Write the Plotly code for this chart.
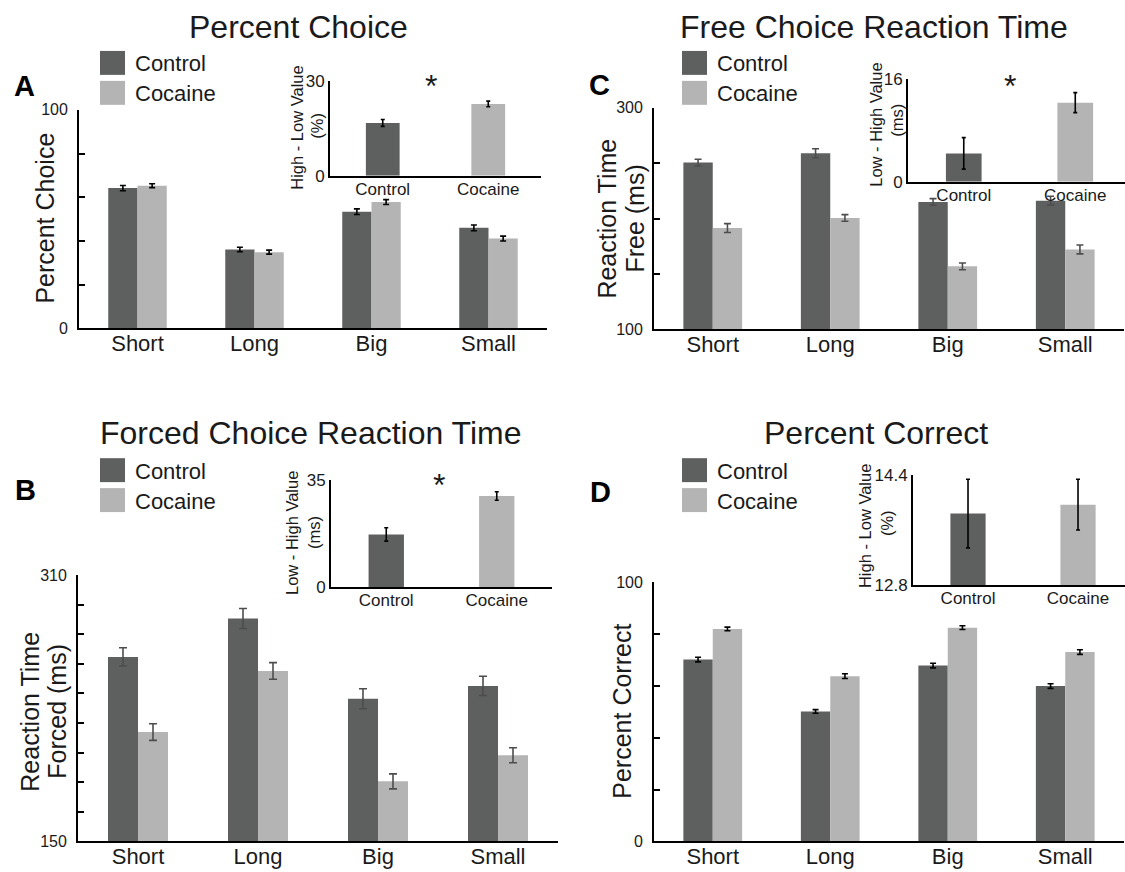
import numpy as np
import plotly.graph_objects as go

W, H = 1125, 872

# ---------------- data ----------------
categories = ["Short", "Long", "Big", "Small"]
groups = ["Control", "Cocaine"]

# A: Percent Choice
choice_control = [64.2, 36.1, 53.4, 46.0]
choice_cocaine = [65.3, 34.9, 57.8, 41.1]
choice_control_err = [1.2, 1.0, 1.3, 1.3]
choice_cocaine_err = [0.9, 0.9, 1.1, 1.1]
choice_diff = [16.7, 22.7]
choice_diff_err = [1.1, 0.9]

# C: Free Choice Reaction Time
free_control = [250.6, 259.0, 215.0, 216.2]
free_cocaine = [191.5, 200.6, 156.9, 172.2]
free_control_err = [3.0, 4.0, 3.0, 4.0]
free_cocaine_err = [4.0, 3.0, 3.0, 4.0]
free_diff = [4.4, 12.3]
free_diff_err = [2.45, 1.56]

# B: Forced Choice Reaction Time
forced_control = [260.8, 283.9, 235.7, 243.4]
forced_cocaine = [215.7, 252.4, 186.1, 201.8]
forced_control_err = [5.5, 6.0, 6.0, 5.8]
forced_cocaine_err = [5.0, 5.0, 4.5, 4.5]
forced_diff = [17.2, 29.8]
forced_diff_err = [2.2, 1.4]

# D: Percent Correct
correct_control = [70.1, 50.1, 67.8, 59.9]
correct_cocaine = [81.9, 63.7, 82.4, 73.0]
correct_control_err = [0.9, 0.7, 0.9, 0.9]
correct_cocaine_err = [0.7, 0.9, 0.7, 0.9]
correct_diff = [13.84, 13.97]
correct_diff_err = [0.5, 0.37]

# axis tick values
choice_ticks = [0, 20, 40, 60, 80, 100]
free_ticks = [100, 150, 200, 250, 300]
forced_ticks = list(np.linspace(150, 310, 10))
correct_ticks = [0, 20, 40, 60, 80, 100]

DARK = "#5e605f"
LIGHT = "#b4b4b4"
FONT = "Liberation Sans, Arial, sans-serif"
TXT = "#1a1a1a"


def X(px):
    return min(max(px / W, 0.0), 1.0)


def Y(py):
    # page photo is slightly compressed vertically; compensate
    return min(max(1 - ((py - 8) / 0.98) / H, 0.0), 1.0)


fig = go.Figure()
layout = {}
annotations = []
shapes = []


def ax_names(i):
    return ("x" if i == 1 else f"x{i}", "y" if i == 1 else f"y{i}",
            "xaxis" if i == 1 else f"xaxis{i}", "yaxis" if i == 1 else f"yaxis{i}")


def add_panel(im, ii, main_box, inset_box, ctrl, coc, ctrl_err, coc_err, errcolor, capw,
              yrange, yticks, diff, diff_err, inset_range, inset_xmax):
    xm, ym, xmk, ymk = ax_names(im)
    xi, yi, xik, yik = ax_names(ii)
    for vals, errs, col, off in ((ctrl, ctrl_err, DARK, -0.25), (coc, coc_err, LIGHT, 0.0)):
        fig.add_trace(go.Bar(
            x=categories, y=vals, width=0.25, offset=off, marker_color=col,
            marker_line_width=0,
            error_y=dict(type="data", array=errs, color=errcolor, thickness=1.6, width=capw),
            xaxis=xm, yaxis=ym, showlegend=False))
    fig.add_trace(go.Bar(
        x=groups, y=diff, width=0.32, marker_color=[DARK, LIGHT], marker_line_width=0,
        error_y=dict(type="data", array=diff_err, color="black", thickness=1.6, width=2),
        xaxis=xi, yaxis=yi, showlegend=False))

    l, r, t, b = main_box
    lo, hi = yrange
    ticktext = [(f"{v:g}" if (abs(v - lo) < 1e-9 or abs(v - hi) < 1e-9) else "") for v in yticks]
    layout[xmk] = dict(domain=[X(l), X(r)], anchor=ym, range=[-0.5, 3.5], showline=True,
                       linecolor="black", linewidth=1.8, ticks="", showgrid=False,
                       zeroline=False, ticklabelstandoff=-6,
                       tickfont=dict(size=22, color=TXT, family=FONT))
    layout[ymk] = dict(domain=[Y(b), Y(t)], anchor=xm, range=[lo, hi], showline=True,
                       linecolor="black", linewidth=1.8, ticks="inside", ticklen=6,
                       tickwidth=1.5, tickcolor="black", tickvals=yticks, ticktext=ticktext,
                       showgrid=False, zeroline=False, ticklabelstandoff=6,
                       tickfont=dict(size=16, color=TXT, family=FONT))
    l, r, t, b = inset_box
    layout[xik] = dict(domain=[X(l), X(r)], anchor=yi, range=[-0.5, inset_xmax], showline=True,
                       linecolor="black", linewidth=1.8, ticks="", showgrid=False,
                       zeroline=False, ticklabelstandoff=-3,
                       tickfont=dict(size=17, color=TXT, family=FONT))
    layout[yik] = dict(domain=[Y(b), Y(t)], anchor=xi, range=inset_range, showline=True,
                       linecolor="black", linewidth=1.8, ticks="", showgrid=False,
                       zeroline=False, tickvals=inset_range,
                       ticktext=[f"{v:g}" for v in inset_range],
                       tickfont=dict(size=17, color=TXT, family=FONT))


# A
add_panel(1, 2, (79, 547, 109, 328), (330, 541, 80, 175),
          choice_control, choice_cocaine, choice_control_err, choice_cocaine_err, "black", 3,
          (0, 100), choice_ticks, choice_diff, choice_diff_err, [0, 30], 1.5)
# C
add_panel(3, 4, (654, 1124, 107, 329), (908, 1125, 78, 181),
          free_control, free_cocaine, free_control_err, free_cocaine_err, "#4d4d4d", 3.5,
          (100, 300), free_ticks, free_diff, free_diff_err, [0, 16], 1.446)
# B
add_panel(5, 6, (78, 558, 575, 842), (331, 552, 480, 587),
          forced_control, forced_cocaine, forced_control_err, forced_cocaine_err, "#4d4d4d", 4,
          (150, 310), forced_ticks, forced_diff, forced_diff_err, [0, 35], 1.5)
# D
add_panel(7, 8, (654, 1124, 582, 842), (913, 1125, 475, 585),
          correct_control, correct_cocaine, correct_control_err, correct_cocaine_err, "black", 3,
          (0, 100), correct_ticks, correct_diff, correct_diff_err, [12.8, 14.4], 1.427)


def text(x, y, s, size, angle=0, bold=False, xanchor="center", yanchor="middle", color=TXT):
    annotations.append(dict(
        x=X(x), y=Y(y), xref="paper", yref="paper", text=(f"<b>{s}</b>" if bold else s),
        showarrow=False, xanchor=xanchor, yanchor=yanchor, textangle=angle,
        font=dict(size=size, family=FONT, color=color)))


# titles
text(298, 26, "Percent Choice", 32)
text(874, 26, "Free Choice Reaction Time", 32)
text(311, 433, "Forced Choice Reaction Time", 32)
text(876, 433, "Percent Correct", 32)

# panel letters
text(24, 85, "A", 29, bold=True, color="black")
text(599, 84, "C", 29, bold=True, color="black")
text(25, 490, "B", 29, bold=True, color="black")
text(600, 492, "D", 29, bold=True, color="black")

# legends
for (lx, ty) in ((100, 50), (682, 50), (100, 458), (682, 458)):
    for k, (name, col) in enumerate(zip(groups, [DARK, LIGHT])):
        y0 = ty + 30 * k
        shapes.append(dict(type="rect", xref="paper", yref="paper", x0=X(lx), x1=X(lx + 25),
                           y0=Y(y0 + 24), y1=Y(y0), fillcolor=col, line=dict(width=0)))
        text(lx + 33, y0 + 13, name, 22, xanchor="left")

# main y titles
text(45, 218, "Percent Choice", 25, angle=-90)
text(607, 218, "Reaction Time", 25, angle=-90)
text(635, 218, "Free (ms)", 25, angle=-90)
text(30, 712, "Reaction Time", 25, angle=-90)
text(57, 712, "Forced (ms)", 25, angle=-90)
text(622, 712, "Percent Correct", 25, angle=-90)

# inset y titles
text(297, 127, "High - Low Value", 16.5, angle=-90)
text(317, 125, "(%)", 16.5, angle=-90)
text(876, 124, "Low - High Value", 16.5, angle=-90)
text(897, 120, "(ms)", 16.5, angle=-90)
text(292, 533, "Low - High Value", 16.5, angle=-90)
text(314, 533, "(ms)", 16.5, angle=-90)
text(865, 526, "High - Low Value", 16.5, angle=-90)
text(887, 523, "(%)", 16.5, angle=-90)

# significance
text(431, 85, "*", 32)
text(1010, 85, "*", 32)
text(439, 485, "*", 32)

layout.update(dict(width=W, height=H, autosize=False, margin=dict(l=0, r=0, t=0, b=0),
                   paper_bgcolor="white", plot_bgcolor="rgba(0,0,0,0)", showlegend=False,
                   barmode="overlay", annotations=annotations, shapes=shapes,
                   font=dict(family=FONT, color=TXT)))
fig.update_layout(**layout)
fig.write_html(
    "out.html",
    config={"displayModeBar": False},
    post_script=("document.documentElement.style.margin='0px';"
                 "document.body.style.margin='0px';"
                 "document.documentElement.style.overflow='hidden';"
                 "document.body.style.overflow='hidden';"
                 "var gd=document.getElementById('{plot_id}');"
                 "gd.style.position='fixed';gd.style.top='0px';gd.style.left='0px';"))
